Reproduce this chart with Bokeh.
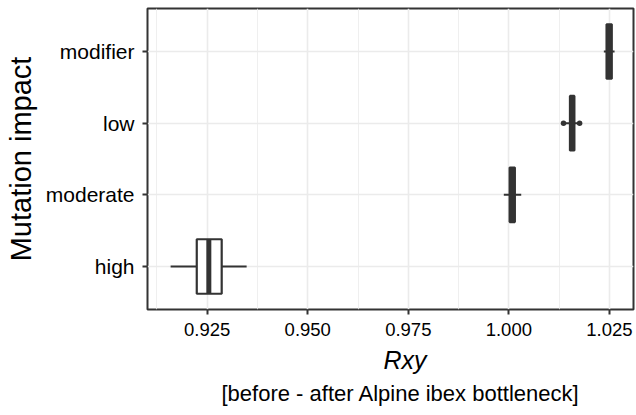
from bokeh.plotting import figure
from bokeh.models import FactorRange, Range1d, Title, FixedTicker
from bokeh.embed import file_html
from bokeh.resources import INLINE

# Data
categories = ["high", "moderate", "low", "modifier"]
whisker_low = [0.9159, 0.99875, 1.0138, 1.02363]
q1 = [0.9224, 1.0002, 1.0152, 1.0243]
median = [0.9254, 1.0009, 1.01577, 1.02497]
q3 = [0.9286, 1.0015, 1.0163, 1.0256]
whisker_high = [0.9348, 1.00308, 1.0173, 1.02629]
outlier_cat = ["low", "low"]
outlier_val = [1.0136, 1.0176]

major_ticks = [0.925, 0.950, 0.975, 1.000, 1.025]
minor_ticks = [0.9125, 0.9375, 0.9625, 0.9875, 1.0125]

dark = "#333333"
font = "Liberation Sans"

p = figure(width=636, height=415,
           y_range=FactorRange(factors=categories, range_padding=0.1,
                               range_padding_units="absolute"),
           x_range=Range1d(0.91015, 1.031),
           output_backend="svg", toolbar_location=None,
           min_border_left=147, min_border_right=3, min_border_top=8,
           min_border_bottom=106)

p.background_fill_color = "white"
p.border_fill_color = "white"
p.outline_line_color = dark
p.outline_line_width = 2

# grid
p.xgrid.ticker = FixedTicker(ticks=major_ticks, minor_ticks=minor_ticks)
p.xgrid.grid_line_color = "#EBEBEB"
p.xgrid.grid_line_width = 1.6
p.xgrid.minor_grid_line_color = "#EBEBEB"
p.xgrid.minor_grid_line_width = 0.8
p.ygrid.grid_line_color = "#EBEBEB"
p.ygrid.grid_line_width = 1.6

# x axis
p.xaxis.ticker = FixedTicker(ticks=major_ticks)
p.xaxis.major_label_overrides = {t: f"{t:.3f}" for t in major_ticks}
p.xaxis.axis_line_color = None
p.xaxis.major_tick_line_color = dark
p.xaxis.major_tick_line_width = 2
p.xaxis.major_tick_out = 5
p.xaxis.major_tick_in = 0
p.xaxis.minor_tick_line_color = None
p.xaxis.major_label_text_font = font
p.xaxis.major_label_text_font_size = "18.5px"
p.xaxis.major_label_text_color = "black"
p.xaxis.major_label_standoff = 8

# y axis
p.yaxis.axis_line_color = None
p.yaxis.major_tick_line_color = dark
p.yaxis.major_tick_line_width = 2
p.yaxis.major_tick_out = 5
p.yaxis.major_tick_in = 0
p.yaxis.major_label_text_font = font
p.yaxis.major_label_text_font_size = "21px"
p.yaxis.major_label_text_color = "black"
p.yaxis.major_label_standoff = 8
p.yaxis.axis_label = "Mutation impact"
p.yaxis.axis_label_text_font = font
p.yaxis.axis_label_text_font_style = "normal"
p.yaxis.axis_label_text_font_size = "29px"
p.yaxis.axis_label_text_color = "black"
p.yaxis.axis_label_standoff = 6

xtitle = Title(text="Rxy", align="left", offset=236, standoff=10,
               text_font=font, text_font_size="25px", text_font_style="italic",
               text_color="black")
p.add_layout(xtitle, "below")
sub = Title(text="[before - after Alpine ibex bottleneck]", align="left",
            offset=74, standoff=0,
            text_font=font, text_font_size="22px", text_font_style="normal",
            text_color="black")
p.add_layout(sub, "below")

# whiskers
p.segment(x0=whisker_low, y0=categories, x1=q1, y1=categories,
          line_color=dark, line_width=2)
p.segment(x0=q3, y0=categories, x1=whisker_high, y1=categories,
          line_color=dark, line_width=2)
# boxes
p.hbar(y=categories, left=q1, right=q3, height=0.76,
       fill_color="white", line_color=dark, line_width=2.2)
# medians
p.rect(x=median, y=categories, width=5, width_units="screen", height=0.76,
       fill_color=dark, line_color=None)
# outliers
p.scatter(x=outlier_val, y=outlier_cat, size=5.5, fill_color=dark, line_color=None)

open("out.html", "w").write(file_html(p, INLINE))
